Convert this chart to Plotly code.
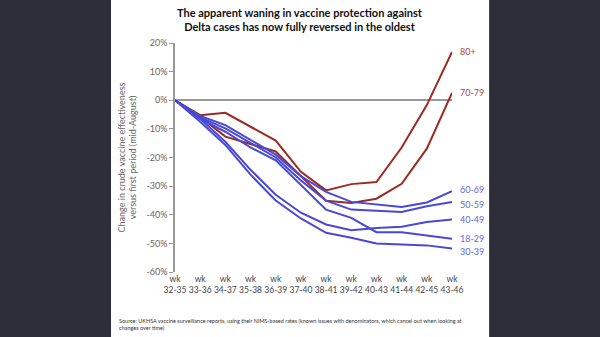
import plotly.graph_objects as go

periods = ["32-35", "33-36", "34-37", "35-38", "36-39", "37-40", "38-41",
           "39-42", "40-43", "41-44", "42-45", "43-46"]
tick_labels = ["wk<br>" + p for p in periods]

s_80 = [0, -5.2, -4.4, -9.3, -14.1, -25.0, -31.5, -29.3, -28.6, -16.5, -1.7, 16.9]
s_70 = [0, -5.8, -12.7, -15.4, -17.9, -26.5, -35.1, -35.9, -34.4, -29.2, -16.9, 2.6]
s_60 = [0, -5.5, -8.7, -14.0, -19.0, -26.5, -32.0, -35.5, -36.5, -37.3, -35.7, -31.8]
s_50 = [0, -6.0, -9.8, -15.0, -20.0, -28.0, -35.1, -38.2, -38.5, -39.0, -37.0, -35.5]
s_18 = [0, -6.5, -11.0, -16.5, -21.0, -29.5, -38.2, -41.1, -46.1, -46.1, -47.2, -48.4]
s_40 = [0, -6.5, -14.5, -24.3, -33.0, -39.3, -43.4, -45.4, -44.6, -44.2, -42.5, -41.7]
s_30 = [0, -7.5, -15.6, -26.0, -35.0, -41.3, -46.3, -48.0, -50.0, -50.3, -50.7, -51.8]

series = [("80+", s_80, "red"), ("70-79", s_70, "red"), ("60-69", s_60, "blue"),
          ("50-59", s_50, "blue"), ("40-49", s_40, "blue"), ("18-29", s_18, "blue"),
          ("30-39", s_30, "blue")]

line_col = {"red": "#9c2a20", "blue": "#4848d8"}
label_col = {"red": "#b0453c", "blue": "#6666e0"}
label_yshift = {"80+": 0, "70-79": 0, "60-69": 2, "50-59": -3, "40-49": 0,
                "18-29": 0, "30-39": -3}

fig = go.Figure()
for name, vals, kind in series:
    fig.add_trace(go.Scatter(x=periods, y=vals, mode="lines", name=name,
                             line=dict(color=line_col[kind], width=2),
                             cliponaxis=False, showlegend=False))
    fig.add_annotation(x=periods[-1], y=vals[-1], text=name, showarrow=False,
                       xanchor="left", yanchor="middle", xshift=6,
                       yshift=label_yshift[name],
                       font=dict(size=9, color=label_col[kind], family="Lato"))

# white panel
fig.add_shape(type="rect", xref="paper", yref="paper", x0=-0.231, x1=1.134,
              y0=-0.3, y1=1.3, fillcolor="white", line=dict(width=0), layer="below")

fig.add_annotation(xref="paper", yref="paper", x=0.451, y=1.0,
                   yshift=8, text="<b>The apparent waning in vaccine protection against<br>Delta cases has now fully reversed in the oldest</b>",
                   showarrow=False, xanchor="center", yanchor="bottom",
                   font=dict(size=11, color="#111", family="Lato"))

fig.add_annotation(xref="paper", yref="paper", x=0, y=0, xshift=-58, yshift=-61,
                   text="Source: UKHSA vaccine surveillance reports, using their NIMS-based rates (known issues with denominators, which cancel out when looking at<br>changes over time)",
                   showarrow=False, xanchor="left", yanchor="bottom", align="left",
                   font=dict(size=5.5, color="#333", family="Lato"))

fig.update_layout(
    width=600, height=337,
    margin=dict(l=175, r=148, t=43, b=64.5),
    paper_bgcolor="#2e2e3b", plot_bgcolor="white",
    font=dict(family="Lato", color="#555"),
    xaxis=dict(type="category", range=[0, 11], tickvals=periods, ticktext=tick_labels,
               showgrid=False, showline=False, zeroline=False, ticks="",
               tickfont=dict(size=8.5, color="#444"), tickangle=0),
    yaxis=dict(range=[-60, 20], tickvals=[20, 10, 0, -10, -20, -30, -40, -50, -60],
               ticktext=["20%", "10%", "0%", "-10%", "-20%", "-30%", "-40%", "-50%", "-60%"],
               showgrid=False, showline=True, linecolor="#999", linewidth=1.5,
               ticks="outside", ticklen=4, tickcolor="#999",
               zeroline=True, zerolinecolor="#999", zerolinewidth=1.5,
               tickfont=dict(size=9, color="#666"),
               title=dict(text="Change in crude vaccine effectiveness<br>versus first period (mid-August)",
                          font=dict(size=9, color="#666"), standoff=8)),
)

fig.write_html("out.html")
